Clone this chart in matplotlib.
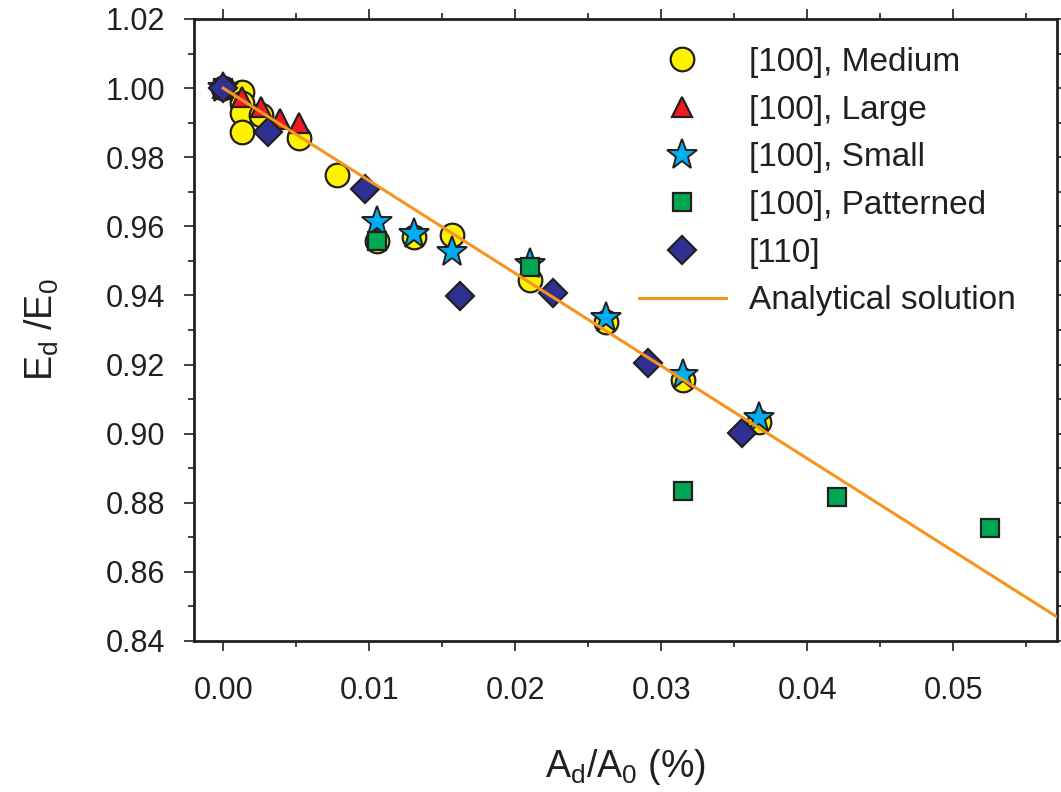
import numpy as np
import matplotlib.pyplot as plt
from matplotlib.ticker import MultipleLocator, FormatStrFormatter

plt.rcParams['font.family'] = ['Liberation Sans', 'DejaVu Sans']

# [100], Medium
med_x = [0.0, 0.0013, 0.0013, 0.0013, 0.0013, 0.0026, 0.0052, 0.0078, 0.0105,
         0.0131, 0.0157, 0.0210, 0.0262, 0.0315, 0.0367]
med_y = [1.0, 0.9988, 0.9957, 0.9928, 0.9873, 0.9922, 0.9855, 0.9748, 0.9558,
         0.9569, 0.9575, 0.9444, 0.9323, 0.9155, 0.9033]
# [100], Large
lrg_x = [0.0, 0.0013, 0.0026, 0.0039, 0.0052]
lrg_y = [1.0, 0.9975, 0.9945, 0.9910, 0.9900]
# [100], Small
sml_x = [0.0, 0.0105, 0.0131, 0.0157, 0.0210, 0.0262, 0.0315, 0.0367]
sml_y = [1.0, 0.9612, 0.9578, 0.9525, 0.9490, 0.9335, 0.9170, 0.9045]
# [100], Patterned
pat_x = [0.0, 0.0105, 0.0210, 0.0315, 0.0420, 0.0525]
pat_y = [1.0, 0.9558, 0.9482, 0.8834, 0.8816, 0.8726]
# [110]
d110_x = [0.0, 0.0031, 0.0097, 0.0162, 0.0226, 0.0291, 0.0355]
d110_y = [1.0, 0.9873, 0.9708, 0.9398, 0.9407, 0.9204, 0.9001]
# Analytical solution (straight line)
ana_x = [0.0, 0.0575]
ana_y = [1.0, 0.8459]

ink = '#231F20'

fig = plt.figure(figsize=(10.61, 7.92), dpi=100)
ax = fig.add_axes([194/1061, 1-641/792, (1057-194)/1061, (641-19)/792])

ax.plot(med_x, med_y, 'o', ms=17, mfc='#FFF200', mec=ink, mew=1.6, label='[100], Medium', zorder=3)
ax.plot(lrg_x, lrg_y, '^', ms=15, mfc='#ED1C24', mec=ink, mew=1.6, label='[100], Large', zorder=3)
ax.plot(sml_x, sml_y, '*', ms=23, mfc='#00AEEF', mec=ink, mew=1.4, label='[100], Small', zorder=3)
ax.plot(pat_x, pat_y, 's', ms=12.5, mfc='#00A651', mec=ink, mew=1.6, label='[100], Patterned', zorder=3)
ax.plot(d110_x, d110_y, 'D', ms=14.5, mfc='#2E3192', mec=ink, mew=1.6, label='[110]', zorder=3)
ax.plot(ana_x, ana_y, '-', color='#F7941D', lw=2.2, label='Analytical solution', zorder=5)

ax.set_xlim(-0.002, 0.0571)
ax.set_ylim(0.84, 1.02)
ax.xaxis.set_major_locator(MultipleLocator(0.01))
ax.xaxis.set_minor_locator(MultipleLocator(0.005))
ax.yaxis.set_major_locator(MultipleLocator(0.02))
ax.yaxis.set_minor_locator(MultipleLocator(0.01))
ax.xaxis.set_major_formatter(FormatStrFormatter('%.2f'))
ax.yaxis.set_major_formatter(FormatStrFormatter('%.2f'))

ax.tick_params(which='both', direction='out', top=True, right=True, color=ink, width=1.2)
ax.tick_params(which='major', length=7, labelsize=22, labelcolor=ink)
ax.tick_params(axis='x', which='major', pad=18)
ax.tick_params(axis='y', which='major', pad=14)
ax.tick_params(which='minor', length=4)
for s in ax.spines.values():
    s.set_linewidth(2.0)
    s.set_color(ink)

ax.set_xlabel('A$_\\mathregular{d}$/A$_\\mathregular{0}$ (%)', fontsize=27, color=ink, labelpad=30)
ax.set_ylabel('E$_\\mathregular{d}$ /E$_\\mathregular{0}$', fontsize=27, color=ink, labelpad=32)

leg = ax.legend(loc='upper left', frameon=False, fontsize=24, labelspacing=0.5,
                handlelength=2.6, handletextpad=0.7, borderaxespad=0.1,
                bbox_to_anchor=(0.4962, 0.982))
for t in leg.get_texts():
    t.set_color(ink)

fig.savefig('out.png', dpi=100)
